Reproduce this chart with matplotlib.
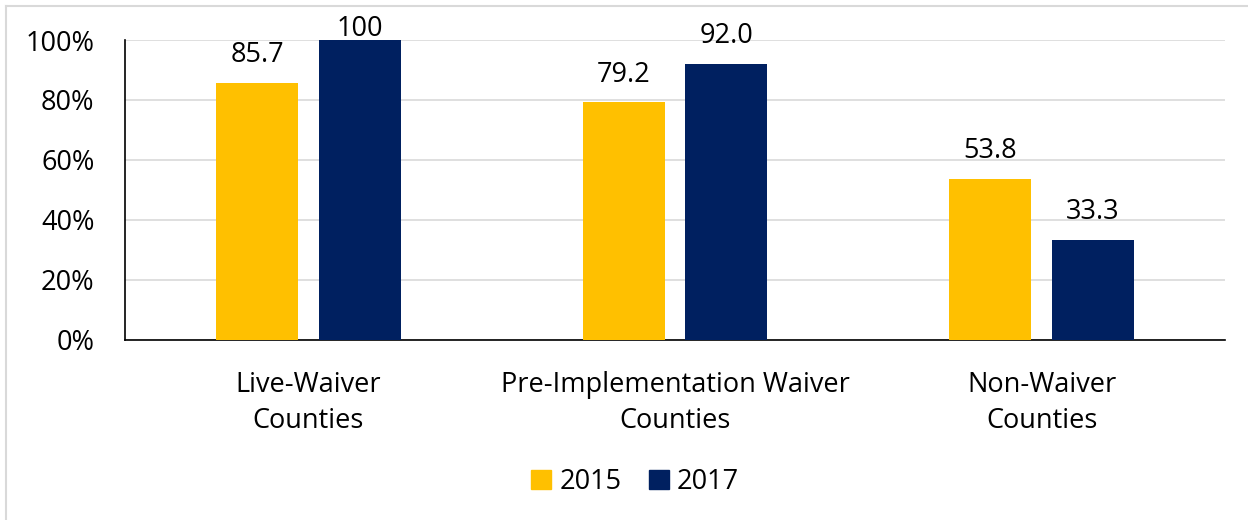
import matplotlib.pyplot as plt
from matplotlib.patches import Patch
from matplotlib.lines import Line2D
import numpy as np

categories = ["Live-Waiver\nCounties", "Pre-Implementation Waiver\nCounties", "Non-Waiver\nCounties"]
values_2015 = [85.7, 79.2, 53.8]
values_2017 = [100, 92.0, 33.3]
labels_2015 = ["85.7", "79.2", "53.8"]
labels_2017 = ["100", "92.0", "33.3"]
years = ["2015", "2017"]

yellow = "#FFC000"
navy = "#002060"

plt.rcParams['font.family'] = ['Open Sans', 'DejaVu Sans']
fs = 19.5

fig = plt.figure(figsize=(12.48, 5.2), dpi=100)
ax = fig.add_axes([125 / 1248, 1 - 340 / 520, 1100 / 1248, 300 / 520])

x = np.arange(len(categories))
w = 0.223
off = 0.14
b1 = ax.bar(x - off, values_2015, w, color=yellow, zorder=3)
b2 = ax.bar(x + off, values_2017, w, color=navy, zorder=3)

for bars, labs in ((b1, labels_2015), (b2, labels_2017)):
    for bar, lab in zip(bars, labs):
        h = bar.get_height()
        # labels at the top of the plot area get pushed down inside it
        dy = 8 if h >= 99 else 20
        ax.annotate(lab, (bar.get_x() + bar.get_width() / 2, h),
                    xytext=(0, dy), textcoords="offset points",
                    ha="center", va="center", fontsize=fs, zorder=4,
                    annotation_clip=False)

ax.set_xlim(-0.5, 2.5)
ax.set_ylim(0, 100)
ax.set_yticks(range(0, 101, 20))
ax.set_yticklabels([f"{v}%" for v in range(0, 101, 20)], fontsize=fs)
ax.set_xticks(x)
ax.set_xticklabels(categories, fontsize=fs, linespacing=1.42)
ax.tick_params(axis="both", length=0)
ax.tick_params(axis="y", pad=22)
ax.tick_params(axis="x", pad=22)
ax.grid(axis="y", color="#d9d9d9", linewidth=1.2, zorder=0)
for s in ["top", "right"]:
    ax.spines[s].set_visible(False)
for s in ["left", "bottom"]:
    ax.spines[s].set_color("black")
    ax.spines[s].set_linewidth(1.2)

handles = [Patch(color=yellow), Patch(color=navy)]
fig.legend(handles, years, loc="center", bbox_to_anchor=(635 / 1248, 1 - 482 / 520),
           ncol=2, frameon=False, fontsize=fs, handlelength=0.75, handleheight=0.75,
           handletextpad=0.3, columnspacing=1.0)

# chart area border (top and left edges visible)
fig.add_artist(Line2D([6 / 1248, 1.0], [1 - 6 / 520] * 2, color="#d9d9d9", lw=1.5))
fig.add_artist(Line2D([6 / 1248] * 2, [0, 1 - 6 / 520], color="#d9d9d9", lw=1.5))

fig.savefig("out.png", dpi=100)
